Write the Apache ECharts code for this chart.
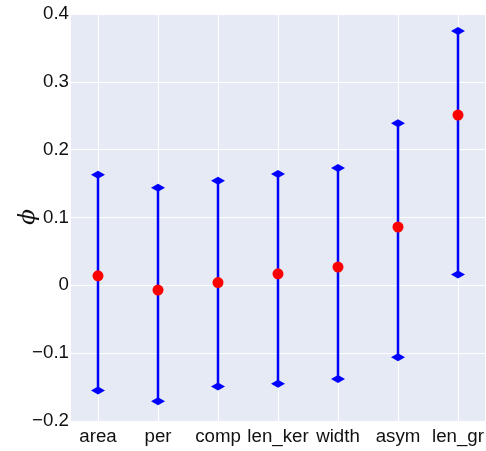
<!DOCTYPE html>
<html>
<head>
<meta charset="utf-8">
<script src="https://cdn.jsdelivr.net/npm/echarts@6/dist/echarts.min.js"></script>
<style>
  html, body { margin: 0; padding: 0; background: #ffffff; }
  #chart { width: 486px; height: 451px; }
</style>
</head>
<body>
<div id="chart"></div>
<script>
// Feature names along the x axis
const categories = ['area', 'per', 'comp', 'len_ker', 'width', 'asym', 'len_gr'];
// Estimated phi for each feature
const phiValues = [0.014, -0.007, 0.004, 0.017, 0.027, 0.086, 0.251];
// Interval bounds for each feature
const lowerBounds = [-0.155, -0.171, -0.149, -0.145, -0.138, -0.106, 0.016];
const upperBounds = [0.163, 0.144, 0.154, 0.164, 0.173, 0.239, 0.375];
// Y-axis tick values
const yTicks = [-0.2, -0.1, 0, 0.1, 0.2, 0.3, 0.4];
// Y-axis title
const yTitle = '\u03d5';

const positions = categories.map((_, i) => i);
const intervalData = positions.map(i => [i, lowerBounds[i], upperBounds[i]]);
const pointData = positions.map(i => [i, phiValues[i]]);

const FONT = '"Liberation Sans", Arial, sans-serif';
const BLUE = '#0000ff';
const TEXT = '#111111';

function fmtTick(v) {
  if (Math.abs(v) < 1e-9) return '0';
  return v.toFixed(1).replace('-', '\u2212');
}

function diamond(cx, cy, w, h) {
  return [[cx - w / 2, cy], [cx, cy - h / 2], [cx + w / 2, cy], [cx, cy + h / 2]];
}

const chart = echarts.init(document.getElementById('chart'), null, { renderer: 'canvas' });

chart.setOption({
  animation: false,
  backgroundColor: '#ffffff',
  grid: {
    left: 71, right: 1, top: 14, bottom: 30,
    containLabel: false,
    outerBoundsMode: 'none',
    show: true, backgroundColor: '#e5eaf5', borderWidth: 0
  },
  graphic: [
    {
      // rotated y-axis title, centred beside the plot
      type: 'text',
      x: 28,
      y: 217,
      rotation: Math.PI / 2,
      style: {
        text: yTitle,
        fontSize: 23,
        fontStyle: 'italic',
        fontFamily: '"DejaVu Serif", serif',
        fill: TEXT,
        align: 'center',
        verticalAlign: 'middle'
      }
    }
  ],
  xAxis: {
    type: 'value',
    min: -0.45,
    max: 6.45,
    axisLine: { show: false },
    axisTick: { show: false, customValues: positions },
    axisLabel: {
      customValues: positions,
      formatter: v => categories[Math.round(v)],
      color: TEXT, fontSize: 18.7, fontFamily: FONT, margin: 6
    },
    splitLine: { show: true, lineStyle: { color: '#ffffff', width: 1 } }
  },
  yAxis: {
    type: 'value',
    min: yTicks[0],
    max: yTicks[yTicks.length - 1],
    interval: 0.1,
    axisLine: { show: false },
    axisTick: { show: false },
    axisLabel: {
      formatter: fmtTick,
      color: TEXT, fontSize: 18.7, fontFamily: FONT, margin: 2
    },
    splitLine: { show: true, lineStyle: { color: '#ffffff', width: 1 } }
  },
  series: [
    {
      type: 'custom',
      data: intervalData,
      z: 2,
      renderItem: function (params, api) {
        const x = api.value(0);
        const lo = api.coord([x, api.value(1)]);
        const hi = api.coord([x, api.value(2)]);
        return {
          type: 'group',
          children: [
            {
              type: 'line',
              shape: { x1: lo[0], y1: lo[1], x2: hi[0], y2: hi[1] },
              style: { stroke: BLUE, lineWidth: 2.5 }
            },
            {
              type: 'polygon',
              shape: { points: diamond(lo[0], lo[1], 14, 8) },
              style: { fill: BLUE }
            },
            {
              type: 'polygon',
              shape: { points: diamond(hi[0], hi[1], 14, 8) },
              style: { fill: BLUE }
            }
          ]
        };
      }
    },
    {
      type: 'scatter',
      data: pointData,
      symbol: 'circle',
      symbolSize: 11,
      z: 3,
      itemStyle: { color: '#ff0000', opacity: 1 }
    }
  ]
});
</script>
</body>
</html>
